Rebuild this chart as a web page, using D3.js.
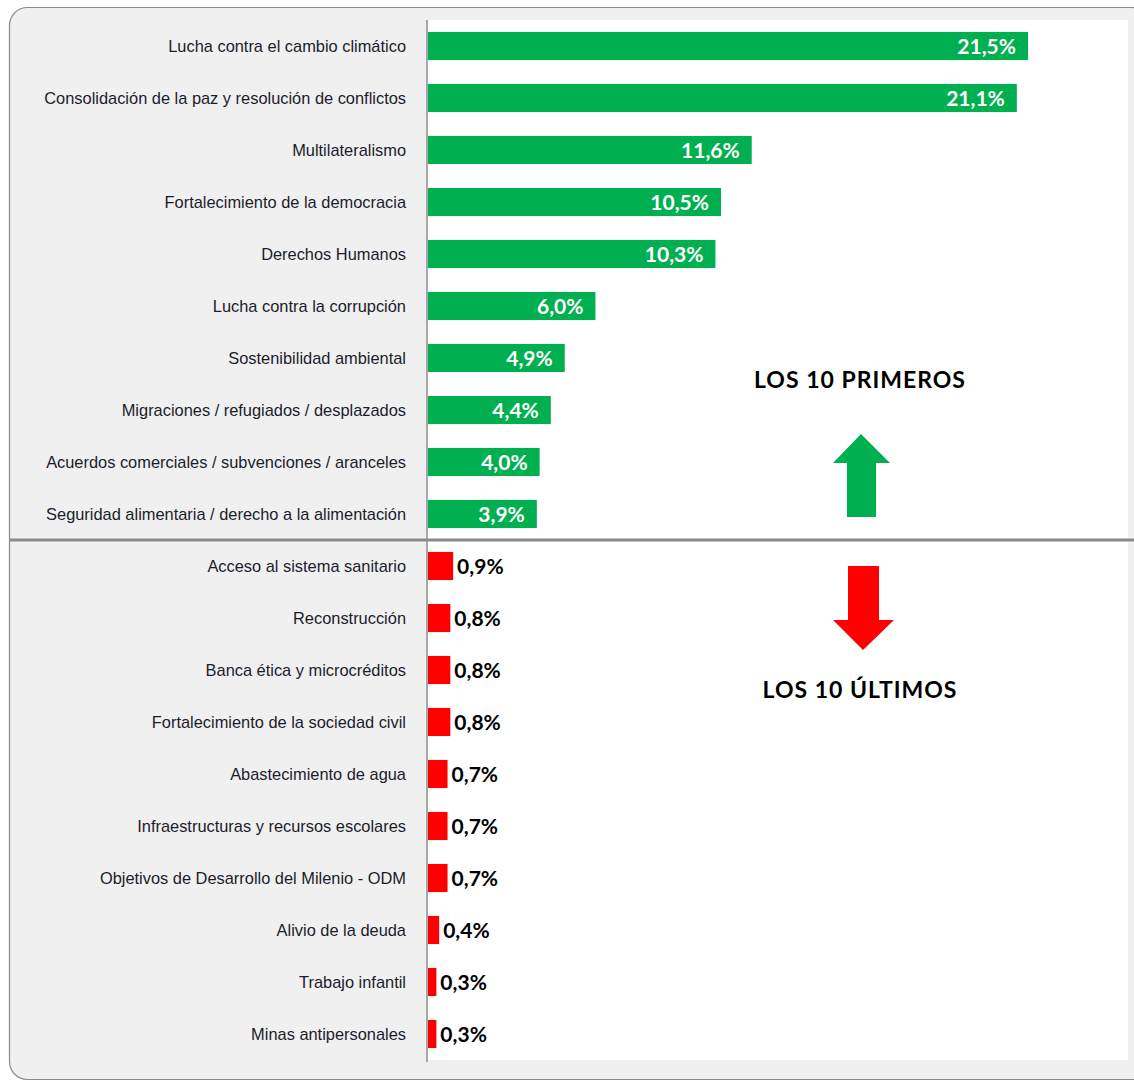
<!DOCTYPE html>
<html>
<head>
<meta charset="utf-8">
<script src="https://cdn.jsdelivr.net/npm/d3@7"></script>
<style>
  body { margin: 0; background: #fff; }
  svg { display: block; }
</style>
</head>
<body>
<svg width="1134" height="1083"></svg>
<script>
// top 10 and bottom 10 topics (%)
var topCategories = [
    "Lucha contra el cambio climático",
    "Consolidación de la paz y resolución de conflictos",
    "Multilateralismo",
    "Fortalecimiento de la democracia",
    "Derechos Humanos",
    "Lucha contra la corrupción",
    "Sostenibilidad ambiental",
    "Migraciones / refugiados / desplazados",
    "Acuerdos comerciales / subvenciones / aranceles",
    "Seguridad alimentaria / derecho a la alimentación"
];
var topValues = [21.5, 21.1, 11.6, 10.5, 10.3, 6.0, 4.9, 4.4, 4.0, 3.9];

var bottomCategories = [
    "Acceso al sistema sanitario",
    "Reconstrucción",
    "Banca ética y microcréditos",
    "Fortalecimiento de la sociedad civil",
    "Abastecimiento de agua",
    "Infraestructuras y recursos escolares",
    "Objetivos de Desarrollo del Milenio - ODM",
    "Alivio de la deuda",
    "Trabajo infantil",
    "Minas antipersonales"
];
var bottomValues = [0.9, 0.8, 0.8, 0.8, 0.7, 0.7, 0.7, 0.4, 0.3, 0.3];

var rows = topCategories.map(function (c, i) {
    return { name: c, value: topValues[i], group: "top" };
}).concat(bottomCategories.map(function (c, i) {
    return { name: c, value: bottomValues[i], group: "bottom" };
}));

var svg = d3.select("svg");

// frame
svg.append("rect")
    .attr("x", 9.5).attr("y", 7.5)
    .attr("width", 1140).attr("height", 1072)
    .attr("rx", 18)
    .attr("fill", "#f0f0f0")
    .attr("stroke", "#8a8a8a")
    .attr("stroke-width", 1.2);

var plotLeft = 427, plotRight = 1128, plotTop = 20, plotBottom = 1060;

svg.append("rect")
    .attr("x", plotLeft).attr("y", plotTop)
    .attr("width", plotRight - plotLeft).attr("height", plotBottom - plotTop)
    .attr("fill", "#fff");

var y = d3.scaleBand()
    .domain(rows.map(function (d) { return d.name; }))
    .range([plotTop, plotBottom])
    .paddingInner(0.46)
    .paddingOuter(0.23);

var x = d3.scaleLinear()
    .domain([0, 21.5])
    .range([plotLeft + 1, 1028]);

var fmt = function (v) { return d3.format(".1f")(v).replace(".", ",") + "%"; };

// bars
svg.append("g")
    .selectAll("rect")
    .data(rows)
    .enter()
    .append("rect")
    .attr("x", x(0))
    .attr("y", function (d) { return y(d.name); })
    .attr("width", function (d) { return x(d.value) - x(0); })
    .attr("height", y.bandwidth())
    .attr("fill", function (d) { return d.group == "top" ? "#00b050" : "#ff0000"; });

// value labels
svg.append("g")
    .selectAll("text")
    .data(rows)
    .enter()
    .append("text")
    .attr("x", function (d) { return d.group == "top" ? x(d.value) - 12 : x(d.value) + 4; })
    .attr("y", function (d) { return y(d.name) + y.bandwidth() / 2; })
    .attr("dy", "0.36em")
    .attr("text-anchor", function (d) { return d.group == "top" ? "end" : "start"; })
    .attr("fill", function (d) { return d.group == "top" ? "#fff" : "#000"; })
    .style("font-family", "Lato, 'Open Sans', sans-serif")
    .style("font-weight", "bold")
    .style("font-size", "21px")
    .text(function (d) { return fmt(d.value); });

// category labels
svg.append("g")
    .selectAll("text")
    .data(rows)
    .enter()
    .append("text")
    .attr("x", 406)
    .attr("y", function (d) { return y(d.name) + y.bandwidth() / 2; })
    .attr("dy", "0.35em")
    .attr("text-anchor", "end")
    .attr("fill", "#1c1c2c")
    .style("font-family", "'Liberation Sans', Arial, sans-serif")
    .style("font-size", "16.4px")
    .text(function (d) { return d.name; });

// axis line
svg.append("line")
    .attr("x1", plotLeft).attr("x2", plotLeft)
    .attr("y1", plotTop).attr("y2", 1062)
    .attr("stroke", "#8c8c8c")
    .attr("stroke-width", 1.5);

// separator between top and bottom
svg.append("line")
    .attr("x1", 9).attr("x2", 1134)
    .attr("y1", 540).attr("y2", 540)
    .attr("stroke", "#8a8a8a")
    .attr("stroke-width", 3);

// arrows
svg.append("path")
    .attr("d", "M861,434 L890,463 L876,463 L876,517 L847,517 L847,463 L833,463 Z")
    .attr("fill", "#00b050");
svg.append("path")
    .attr("d", "M848,566 L879,566 L879,620 L894,620 L863,650 L833,620 L848,620 Z")
    .attr("fill", "#ff0000");

// group titles
var titles = [
    { text: "LOS 10 PRIMEROS", y: 380 },
    { text: "LOS 10 ÚLTIMOS", y: 690 }
];
svg.append("g")
    .selectAll("text")
    .data(titles)
    .enter()
    .append("text")
    .attr("x", 860)
    .attr("y", function (d) { return d.y; })
    .attr("dy", "0.36em")
    .attr("text-anchor", "middle")
    .attr("fill", "#000")
    .style("font-family", "Lato, 'Open Sans', sans-serif")
    .style("font-weight", "bold")
    .style("font-size", "23px")
    .style("letter-spacing", "1px")
    .text(function (d) { return d.text; });
</script>
</body>
</html>
